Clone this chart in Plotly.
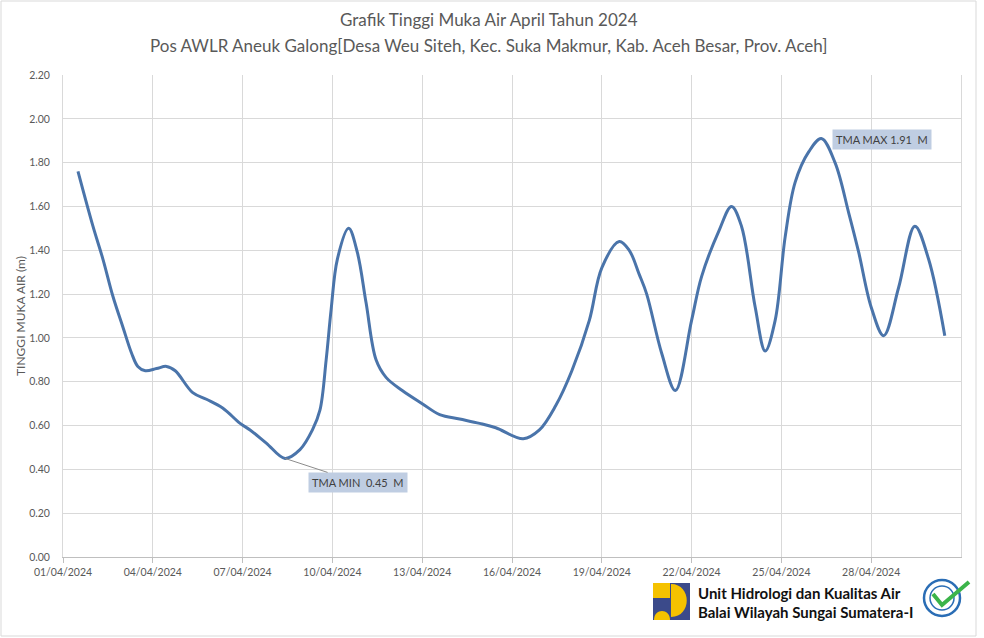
import plotly.graph_objects as go

# ---------------- data ----------------
times = [
    "2024-04-01 12:00", "2024-04-02 00:00", "2024-04-02 08:00", "2024-04-02 16:00",
    "2024-04-03 00:00", "2024-04-03 07:00", "2024-04-03 12:00", "2024-04-03 18:00",
    "2024-04-04 03:00", "2024-04-04 11:00", "2024-04-04 18:00", "2024-04-05 08:00",
    "2024-04-05 19:00", "2024-04-06 08:00", "2024-04-06 22:00", "2024-04-07 06:00",
    "2024-04-07 19:00", "2024-04-08 10:00", "2024-04-08 22:00", "2024-04-09 08:00",
    "2024-04-09 14:00", "2024-04-09 19:00", "2024-04-09 23:00", "2024-04-10 04:00",
    "2024-04-10 13:00", "2024-04-10 20:00", "2024-04-11 03:00", "2024-04-11 11:00",
    "2024-04-11 19:00", "2024-04-12 08:00", "2024-04-13 00:00", "2024-04-13 14:00",
    "2024-04-14 06:00", "2024-04-14 22:00", "2024-04-15 11:00", "2024-04-16 09:00",
    "2024-04-16 22:00", "2024-04-17 11:00", "2024-04-18 00:00", "2024-04-18 14:00",
    "2024-04-19 00:00", "2024-04-19 14:00", "2024-04-19 22:00", "2024-04-20 06:00",
    "2024-04-20 12:00", "2024-04-21 00:00", "2024-04-21 11:00", "2024-04-22 00:00",
    "2024-04-22 08:00", "2024-04-22 22:00", "2024-04-23 08:00", "2024-04-23 16:00",
    "2024-04-24 03:00", "2024-04-24 11:00", "2024-04-24 19:00", "2024-04-25 03:00",
    "2024-04-25 11:00", "2024-04-25 22:00", "2024-04-26 08:00", "2024-04-26 19:00",
    "2024-04-27 06:00", "2024-04-27 14:00", "2024-04-28 00:00", "2024-04-28 10:00",
    "2024-04-28 22:00", "2024-04-29 11:00", "2024-04-29 22:00", "2024-04-30 11:00",
]
levels = [
    1.76, 1.51, 1.36, 1.19,
    1.05, 0.93, 0.87, 0.85,
    0.86, 0.87, 0.85, 0.75,
    0.72, 0.68, 0.61, 0.58,
    0.52, 0.45, 0.49, 0.58,
    0.67, 0.90, 1.13, 1.36,
    1.50, 1.39, 1.16, 0.90,
    0.82, 0.76, 0.70, 0.65,
    0.63, 0.61, 0.59, 0.54,
    0.58, 0.69, 0.85, 1.08,
    1.32, 1.44, 1.40, 1.29,
    1.20, 0.93, 0.76, 1.08,
    1.28, 1.49, 1.60, 1.51,
    1.14, 0.94, 1.08, 1.46,
    1.71, 1.85, 1.91, 1.80,
    1.57, 1.39, 1.14, 1.01,
    1.23, 1.51, 1.36, 1.01,
]
tick_dates = ["2024-04-01", "2024-04-04", "2024-04-07", "2024-04-10", "2024-04-13",
              "2024-04-16", "2024-04-19", "2024-04-22", "2024-04-25", "2024-04-28"]
x_range = ["2024-04-01", "2024-05-01"]
y_range = [0, 2.2]

title_1 = "Grafik Tinggi Muka Air April Tahun 2024"
title_2 = "Pos AWLR Aneuk Galong[Desa Weu Siteh, Kec. Suka Makmur, Kab. Aceh Besar, Prov. Aceh]"
y_title = "TINGGI MUKA AIR (m)"
footer_1 = "Unit Hidrologi dan Kualitas Air"
footer_2 = "Balai Wilayah Sungai Sumatera-I"

# ---------------- layout helpers (pixel -> paper) ----------------
W, H = 984, 638
L, R, T, B = 63, 961, 75, 557


def px(x):
    return (x - L) / (R - L)


def py(y):
    return (B - y) / (B - T)


GRAY = "#595959"
GRID = "#d9d9d9"
LINE = "#4a74aa"
FONT = "Lato"

fig = go.Figure()
fig.add_trace(go.Scatter(
    x=times, y=levels, mode="lines",
    line=dict(color=LINE, width=3, shape="spline", smoothing=1.0),
    showlegend=False, hoverinfo="x+y",
))

i_min = levels.index(min(levels))
i_max = levels.index(max(levels))
NB = "\u00a0"

annotations = [
    dict(xref="paper", yref="paper", x=px(488.5), y=py(20), text=title_1,
         showarrow=False, xanchor="center", yanchor="middle",
         font=dict(family=FONT, size=17, color=GRAY)),
    dict(xref="paper", yref="paper", x=px(488.5), y=py(45), text=title_2,
         showarrow=False, xanchor="center", yanchor="middle",
         font=dict(family=FONT, size=17, color=GRAY)),
    dict(xref="paper", yref="paper", x=px(20), y=0.5, text=y_title, textangle=-90,
         showarrow=False, xanchor="center", yanchor="middle",
         font=dict(family=FONT, size=12, color=GRAY)),
    dict(x=times[i_min], y=levels[i_min],
         text=f"TMA MIN{NB}{NB}{levels[i_min]:.2f}{NB}{NB}M",
         showarrow=True, arrowhead=0, arrowwidth=1, arrowcolor="#8c8c8c",
         ax=73, ay=24, bgcolor="#bfcde2", borderpad=3,
         font=dict(family=FONT, size=11, color="#404040")),
    dict(x=times[i_max], y=levels[i_max],
         text=f"TMA MAX {levels[i_max]:.2f}{NB}{NB}M",
         showarrow=False, xanchor="left", yanchor="middle", xshift=11, yshift=-1,
         bgcolor="#bfcde2", borderpad=3,
         font=dict(family=FONT, size=11, color="#404040")),
    dict(xref="paper", yref="paper", x=px(696), y=py(593), text=f"<b>{footer_1}</b>",
         showarrow=False, xanchor="left", yanchor="middle",
         font=dict(family=FONT, size=15, color="#111111")),
    dict(xref="paper", yref="paper", x=px(696), y=py(612), text=f"<b>{footer_2}</b>",
         showarrow=False, xanchor="left", yanchor="middle",
         font=dict(family=FONT, size=15, color="#111111")),
]


def pt(a, b):
    return f"{px(a):.5f},{py(b):.5f}"


shapes = [
    # outer chart border
    dict(type="rect", xref="paper", yref="paper", x0=px(1), x1=px(976), y0=py(636), y1=py(1),
         line=dict(color=GRID, width=1), layer="below"),
    # logo
    dict(type="rect", xref="paper", yref="paper", x0=px(653), x1=px(690), y0=py(620), y1=py(583),
         line=dict(width=0), fillcolor="#3b4a8a"),
    dict(type="rect", xref="paper", yref="paper", x0=px(653), x1=px(670), y0=py(598), y1=py(583),
         line=dict(width=0), fillcolor="#f5c200"),
    dict(type="path", xref="paper", yref="paper",
         path=f"M{pt(671, 584)} C{pt(692, 584)} {pt(692, 617)} {pt(671, 617)} Z",
         line=dict(width=0), fillcolor="#f5c200"),
    dict(type="path", xref="paper", yref="paper",
         path=f"M{pt(654, 620)} C{pt(654, 608)} {pt(670, 608)} {pt(670, 620)} Z",
         line=dict(width=0), fillcolor="#f5c200"),
    # ISO badge
    dict(type="circle", xref="paper", yref="paper", x0=px(924), x1=px(960), y0=py(616), y1=py(580),
         line=dict(color="#2a6db5", width=2.5), fillcolor="white"),
    dict(type="circle", xref="paper", yref="paper", x0=px(930), x1=px(954), y0=py(610), y1=py(586),
         line=dict(color="#2a6db5", width=1.5), fillcolor="white"),
    dict(type="path", xref="paper", yref="paper",
         path=f"M{pt(933, 594)} L{pt(942, 605)} L{pt(969, 582)}",
         line=dict(color="#3bb44a", width=4)),
]

fig.update_layout(
    width=W, height=H,
    margin=dict(l=L, r=W - R, t=T, b=H - B),
    paper_bgcolor="white", plot_bgcolor="white",
    annotations=annotations, shapes=shapes,
    font=dict(family=FONT, color=GRAY),
)
fig.update_xaxes(
    type="date", range=x_range, tickvals=tick_dates, tickformat="%d/%m/%Y",
    showgrid=True, gridcolor=GRID, gridwidth=1,
    showline=True, linecolor="#bfbfbf", linewidth=1,
    ticks="outside", ticklen=5, tickcolor="#bfbfbf",
    tickfont=dict(family=FONT, size=10.5, color=GRAY),
    zeroline=False,
)
fig.update_yaxes(
    range=y_range, dtick=0.2, tick0=0, tickformat=".2f",
    showgrid=True, gridcolor=GRID, gridwidth=1,
    showline=True, linecolor=GRID, linewidth=1, mirror=True,
    ticks="", ticklabelstandoff=10,
    tickfont=dict(family=FONT, size=10.5, color=GRAY),
    zeroline=False,
)

fig.write_html("out.html")
